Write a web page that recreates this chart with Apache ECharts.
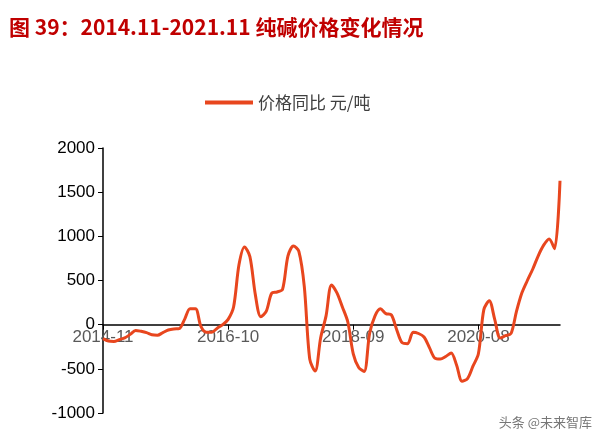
<!DOCTYPE html>
<html><head><meta charset="utf-8">
<script src="https://cdn.jsdelivr.net/npm/echarts@6/dist/echarts.min.js"></script>
<style>html,body{margin:0;padding:0;background:#fff}#c{width:600px;height:435px}</style>
</head><body><div id="c"></div>
<script>
const startYear = 2014, startMonth = 11, monthCount = 85;
const values = [-158,-185,-190,-170,-150,-110,-65,-75,-90,-115,-120,-90,-60,-48,-45,60,180,180,-20,-85,-85,-40,0,60,200,680,880,770,340,90,150,355,370,400,780,890,830,430,-390,-525,-150,100,450,360,200,30,-330,-485,-530,-100,100,180,125,110,-60,-205,-215,-85,-100,-140,-260,-380,-390,-360,-320,-460,-640,-610,-470,-330,170,270,60,-150,-125,-100,150,360,500,630,780,900,970,860,1630];
const yTicks = [-1000,-500,0,500,1000,1500,2000];
const categories = [];
for (let i = 0; i < monthCount; i++) {
  const t = startYear*12 + (startMonth-1) + i;
  categories.push(Math.floor(t/12) + '-' + String(t%12+1).padStart(2,'0'));
}
const chart = echarts.init(document.getElementById('c'));
chart.setOption({
  animation:false,
  title:{text:'图 39：2014.11-2021.11 纯碱价格变化情况',left:4,top:12,textStyle:{color:'#c00000',fontSize:21,fontWeight:'bold',fontFamily:'Noto Sans CJK SC'}},
  graphic:[{type:'text',right:8,bottom:6,style:{text:'头条 @未来智库',fill:'#777',fontSize:13,fontFamily:'Noto Sans CJK SC'}}],
  legend:{top:89,left:200,itemWidth:48,itemHeight:4,itemGap:8,textStyle:{fontSize:17,color:'#404040',fontFamily:'Noto Sans CJK SC'},data:[{name:'价格同比 元/吨',icon:'rect'}]},
  grid:{left:103,right:40,top:148,bottom:22},
  xAxis:{type:'category',data:categories,boundaryGap:false,
    axisLine:{onZero:false,lineStyle:{color:'#000',width:1.5}},
    offset:-88.3,
    axisTick:{interval:22,length:5,lineStyle:{color:'#000'}},
    axisLabel:{interval:22,color:'#595959',fontSize:17,margin:4,fontFamily:'Liberation Sans'}},
  yAxis:{type:'value',min:yTicks[0],max:yTicks[yTicks.length-1],interval:500,
    axisLine:{show:true,lineStyle:{color:'#000',width:1.5}},
    axisTick:{show:true,lineStyle:{color:'#000'}},
    splitLine:{show:false},
    axisLabel:{color:'#000',fontSize:17,fontFamily:'Liberation Sans',formatter:v=>String(v)}},
  series:[{name:'价格同比 元/吨',type:'line',data:values,showSymbol:false,smooth:0.3,
    lineStyle:{color:'#e8461e',width:3},itemStyle:{color:'#e8461e'}}]
});
</script></body></html>
